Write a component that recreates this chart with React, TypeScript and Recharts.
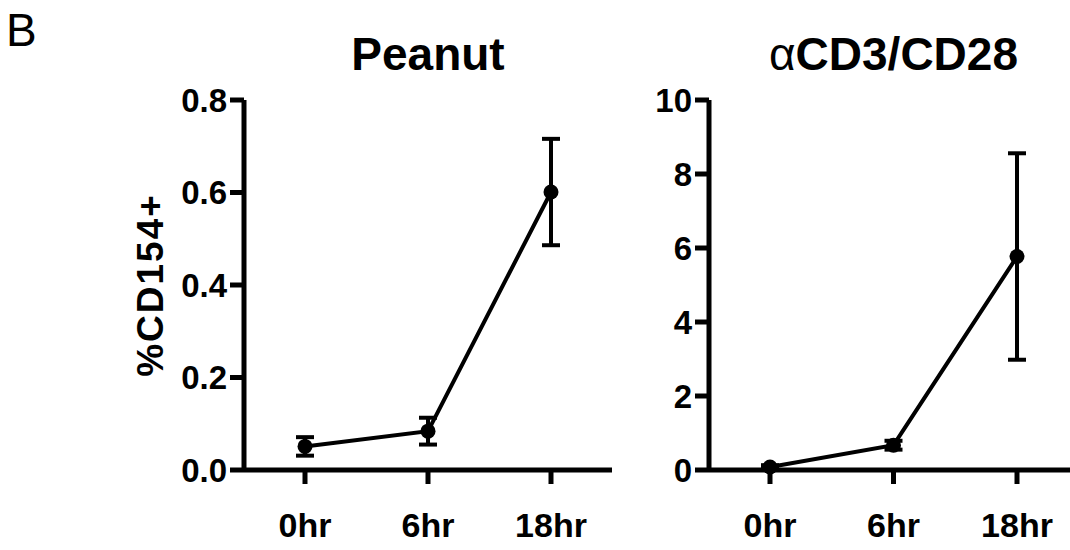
import { LineChart, Line, XAxis, YAxis, ErrorBar, Label } from 'recharts';
import type { ReactNode } from 'react';

const times = ['0hr', '6hr', '18hr'];
const peanutMean = [0.051, 0.084, 0.601];
const peanutErr = [0.02, 0.029, 0.115];
const cd3Mean = [0.08, 0.67, 5.77];
const cd3Err = [0.05, 0.12, 2.79];
const peanutTicks = [0, 0.2, 0.4, 0.6, 0.8];
const cd3Ticks = [0, 2, 4, 6, 8, 10];

const FONT = '"Liberation Sans", Arial, Helvetica, sans-serif';

interface PanelProps {
  title: ReactNode;
  means: number[];
  errs: number[];
  ticks: number[];
  fmt: (v: number) => string;
  left: number;
  width: number;
  rightMargin: number;
  yLabel?: string;
}

function Panel({ title, means, errs, ticks, fmt, left, width, rightMargin, yLabel }: PanelProps) {
  const data = times.map((t, i) => ({ time: t, mean: means[i], err: errs[i] }));
  const plotLeft = left + 244;
  const plotRight = left + width - rightMargin;
  const axisStyle = { stroke: '#000', strokeWidth: 5 };

  return (
    <>
      <div
        style={{
          position: 'absolute', top: 31, left: plotLeft, width: plotRight - plotLeft,
          textAlign: 'center', fontFamily: FONT, fontWeight: 700, fontSize: 46, lineHeight: '46px',
          color: '#000', whiteSpace: 'nowrap',
        }}
      >
        {title}
      </div>
      <div style={{ position: 'absolute', top: 0, left }}>
        <LineChart width={width} height={550} data={data} margin={{ top: 100, right: rightMargin, left: 0, bottom: 0 }}>
          <XAxis
            dataKey="time"
            scale="point"
            padding={{ left: 61, right: 61 }}
            height={80}
            axisLine={axisStyle}
            tickLine={axisStyle}
            tickSize={14}
            tickMargin={29}
            interval={0}
            tick={{ fill: '#000', fontSize: 34, fontWeight: 700, fontFamily: FONT }}
          />
          <YAxis
            width={244}
            domain={[ticks[0], ticks[ticks.length - 1]]}
            ticks={ticks}
            interval={0}
            tickFormatter={fmt}
            axisLine={axisStyle}
            tickLine={axisStyle}
            tickSize={14}
            tickMargin={3}
            tick={{ fill: '#000', fontSize: 33, fontWeight: 700, fontFamily: FONT }}
          >
            {yLabel && (
              <Label
                value={yLabel}
                angle={-90}
                position="insideLeft"
                offset={150}
                style={{ textAnchor: 'middle', fontSize: 37, fontWeight: 700, fontFamily: FONT, fill: '#000', letterSpacing: 2 }}
              />
            )}
          </YAxis>
          <Line
            type="linear"
            dataKey="mean"
            stroke="#000"
            strokeWidth={4}
            dot={{ r: 7.5, fill: '#000', stroke: '#000', strokeWidth: 0 }}
            activeDot={false}
            isAnimationActive={false}
          >
            <ErrorBar dataKey="err" direction="y" width={9} strokeWidth={4} stroke="#000" />
          </Line>
        </LineChart>
      </div>
    </>
  );
}

export default function App() {
  return (
    <div style={{ position: 'absolute', left: 0, top: 0, width: 1070, height: 550, overflow: 'hidden', background: '#fff' }}>
      <div style={{ position: 'absolute', left: 6, top: 7, fontFamily: FONT, fontSize: 46, lineHeight: '46px', color: '#000' }}>B</div>
      <Panel
        title="Peanut"
        means={peanutMean}
        errs={peanutErr}
        ticks={peanutTicks}
        fmt={(v) => v.toFixed(1)}
        left={0}
        width={640}
        rightMargin={28}
        yLabel="%CD154+"
      />
      <Panel
        title={<><span style={{ fontWeight: 400 }}>α</span>CD3/CD28</>}
        means={cd3Mean}
        errs={cd3Err}
        ticks={cd3Ticks}
        fmt={(v) => String(v)}
        left={465}
        width={635}
        rightMargin={22}
      />
    </div>
  );
}
